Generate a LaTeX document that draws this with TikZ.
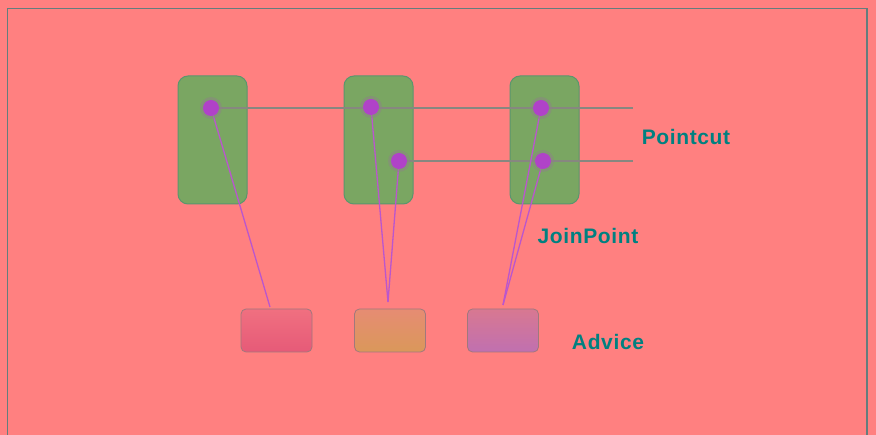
\documentclass[tikz,border=0pt]{standalone}
\usepackage{fontspec}
\setmainfont{Liberation Sans}
\newfontfamily\labelfont[LetterSpace=3]{Liberation Sans}
\definecolor{bgred}{RGB}{255,128,128}
\definecolor{framegray}{RGB}{100,125,125}
\definecolor{boxgreen}{RGB}{122,166,98}
\definecolor{boxedge}{RGB}{90,150,110}
\definecolor{dotpurple}{RGB}{176,66,200}
\definecolor{linepurple}{RGB}{186,86,206}
\definecolor{linegray}{RGB}{135,135,128}
\definecolor{teal}{RGB}{0,128,128}
\definecolor{advAtop}{RGB}{240,112,128}
\definecolor{advAbot}{RGB}{230,90,120}
\definecolor{advBtop}{RGB}{230,140,115}
\definecolor{advBbot}{RGB}{218,152,90}
\definecolor{advCtop}{RGB}{216,120,145}
\definecolor{advCbot}{RGB}{192,112,176}
\definecolor{advedge}{RGB}{160,120,125}
\tikzset{
  x=1pt, y=-1pt,
  classbox/.style={draw=boxedge, line width=1pt, fill=boxgreen, rounded corners=10pt,
    minimum width=69pt, minimum height=128pt, inner sep=0pt},
  jdot/.style={circle, fill=dotpurple, minimum size=16pt, inner sep=0pt},
  glow/.style={circle, fill=dotpurple!35!boxgreen, fill opacity=0.5, minimum size=22pt, inner sep=0pt},
  advbox/.style={draw=advedge, line width=0.8pt, rounded corners=5pt,
    minimum width=71pt, minimum height=43pt, inner sep=0pt},
  cutline/.style={draw=linegray, line width=1.2pt},
  advline/.style={draw=linepurple, line width=1.3pt},
  lbl/.style={text=teal, font=\labelfont\bfseries\fontsize{21}{24}\selectfont, inner sep=0pt}
}
\begin{document}
\begin{tikzpicture}
\fill[bgred] (0,0) rectangle (876,435);
\useasboundingbox (0,0) rectangle (876,435);
\draw[framegray, line width=1.3pt] (7.5,435) -- (7.5,8.5) -- (867,8.5) -- (867,435);

% classes
\node[classbox] (c1) at (212.5,140) {};
\node[classbox] (c2) at (378.5,140) {};
\node[classbox] (c3) at (544.5,140) {};

% advice
\node[advbox, top color=advAtop, bottom color=advAbot] (a1) at (276.5,330.5) {};
\node[advbox, top color=advBtop, bottom color=advBbot] (a2) at (390,330.5) {};
\node[advbox, top color=advCtop, bottom color=advCbot] (a3) at (503,330.5) {};

\coordinate (q1) at (211,108);
\coordinate (q2) at (371,107);
\coordinate (q3) at (399,161);
\coordinate (q4) at (541,108);
\coordinate (q5) at (543,161);

\coordinate (p1) at (633,108);
\coordinate (p2) at (633,161);
\coordinate (e1) at (270,307);
\coordinate (e2) at (388,302);
\coordinate (e3) at (503,305);

% pointcut lines
\draw[cutline] (q1) -- (p1);
\draw[cutline] (q3) -- (p2);

% advice lines
\draw[advline] (q1) -- (e1);
\draw[advline] (q2) -- (e2);
\draw[advline] (q3) -- (e2);
\draw[advline] (q4) -- (e3);
\draw[advline] (q5) -- (e3);

% glows and join points
\foreach \q in {q1,q2,q3,q4,q5} { \node[glow] at (\q) {}; }
\node[jdot] (j1) at (q1) {};
\node[jdot] (j2) at (q2) {};
\node[jdot] (j3) at (q3) {};
\node[jdot] (j4) at (q4) {};
\node[jdot] (j5) at (q5) {};

% labels
\node[lbl] (lp) at (686,137) {Pointcut};
\node[lbl] (lj) at (588,236) {JoinPoint};
\node[lbl] (la) at (608,342) {Advice};
\end{tikzpicture}
\end{document}
